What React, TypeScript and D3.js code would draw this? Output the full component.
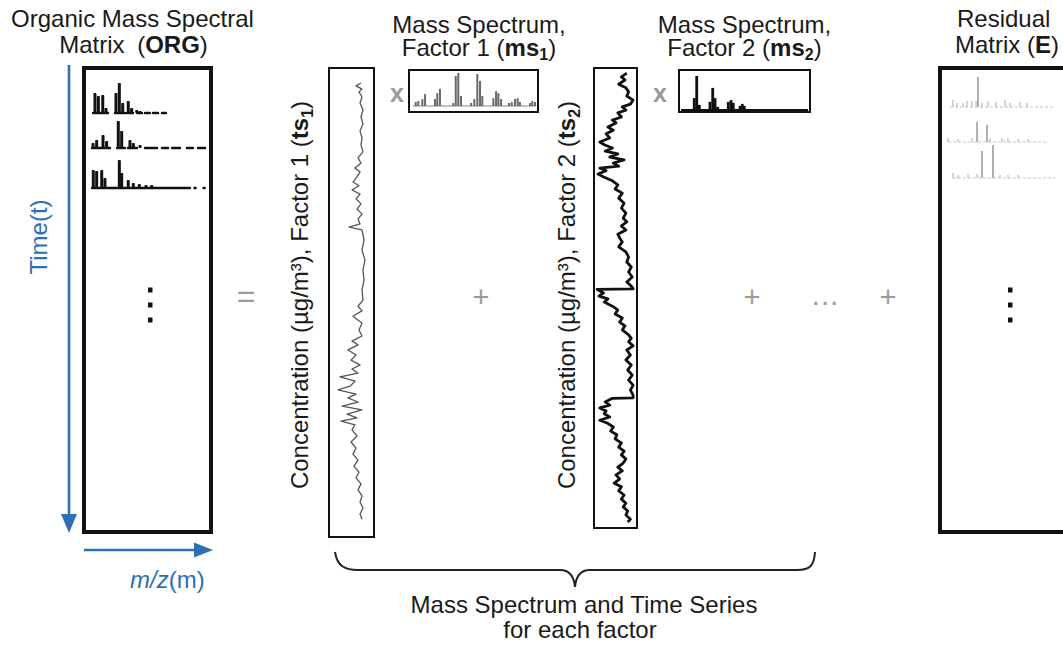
import React from 'react';
import * as d3 from 'd3';

const FONT = '"Liberation Sans", Arial, Helvetica, sans-serif';
const BLUE = '#2d70b3';
const GRAY = '#9a9a9a';

// time series, factor 1: [time (% of record), concentration µg/m3]
const ts1: [number, number][] = [
  [2.8, 0.95], [3.4, 1.47], [4.1, 0.84], [4.7, 1.16], [5.8, 0.84], [7.1, 1.05], [8.6, 0.74], [10.1, 0.95],
  [11.6, 0.74], [13.1, 1.05], [14.6, 0.84], [16.1, 0.95], [17.6, 0.74], [18.9, 1.26], [20.0, 0.95], [21.1, 1.58],
  [21.9, 1.05], [23.0, 1.37], [24.1, 1.79], [24.9, 1.16], [25.8, 1.89], [26.7, 1.05], [27.7, 1.47], [28.8, 0.95],
  [29.9, 1.37], [31.0, 0.84], [32.0, 1.26], [33.1, 1.05], [33.8, 2.21], [34.4, 0.84], [36.6, 0.63], [38.7, 0.84],
  [40.9, 0.53], [43.0, 0.74], [45.2, 0.63], [47.3, 0.84], [49.5, 0.74], [50.8, 1.26], [51.8, 0.84], [52.9, 1.79],
  [53.5, 1.47], [54.4, 0.84], [55.9, 1.16], [57.2, 0.84], [58.3, 1.89], [59.1, 1.26], [60.2, 2.32], [61.3, 1.47],
  [62.4, 2.0], [63.4, 1.05], [64.3, 1.89], [65.2, 1.26], [66.0, 3.16], [66.9, 1.58], [68.0, 2.1], [68.8, 3.37],
  [69.7, 1.47], [70.5, 2.32], [71.4, 1.26], [72.3, 2.95], [73.1, 0.84], [74.0, 2.42], [74.8, 1.37], [75.5, 3.05],
  [76.3, 1.58], [77.4, 1.89], [78.7, 1.37], [80.0, 2.0], [81.3, 1.47], [82.6, 1.79], [83.9, 1.26], [85.2, 1.68],
  [86.5, 1.16], [87.7, 1.47], [89.0, 0.95], [90.3, 1.26], [91.6, 0.84], [92.9, 1.05], [94.2, 0.74], [95.5, 1.05],
  [96.6, 0.84],
];

// time series, factor 2
const ts2: [number, number][] = [
  [0.7, 0.8], [1.5, 1.4], [2.2, 1.0], [3.1, 1.7], [3.9, 0.9], [4.8, 0.6], [5.7, 0.8], [6.6, 0.1], [7.5, 0.4],
  [8.1, 1.3], [8.8, 0.9], [9.4, 1.8], [10.3, 1.4], [11.0, 2.4], [11.6, 2.0], [12.5, 2.9], [13.2, 2.3], [14.0, 3.1],
  [14.9, 2.7], [15.8, 3.8], [16.4, 3.3], [17.1, 2.4], [17.8, 3.2], [18.4, 1.8], [19.1, 2.7], [19.7, 1.1], [20.4, 2.3],
  [21.1, 1.7], [21.5, 3.8], [22.1, 3.1], [22.8, 4.0], [23.5, 3.3], [24.3, 2.4], [25.2, 1.8], [26.1, 2.1], [27.0, 1.3],
  [28.1, 1.7], [29.2, 1.1], [30.3, 1.4], [31.4, 0.9], [32.5, 1.2], [33.3, 0.8], [34.2, 1.4], [35.1, 0.9], [36.0, 1.8],
  [36.8, 1.6], [37.7, 1.3], [38.8, 1.7], [39.9, 0.9], [41.0, 0.6], [42.1, 0.8], [43.2, 0.3], [44.3, 0.6], [45.4, 0.2],
  [46.5, 0.8], [47.4, 0.3], [48.0, 0.1], [48.1, 4.1], [48.9, 3.4], [49.6, 3.9], [50.2, 2.9], [50.9, 3.3], [51.8, 2.4],
  [52.6, 1.8], [53.5, 2.1], [54.4, 1.3], [55.3, 1.6], [56.1, 1.0], [57.0, 1.3], [57.9, 0.7], [58.8, 0.3], [59.6, 0.6],
  [60.5, 0.1], [61.4, 0.8], [62.5, 0.4], [63.6, 0.9], [64.7, 0.3], [65.8, 0.7], [66.9, 0.2], [68.0, 0.6], [69.1, 0.1],
  [70.2, 0.4], [71.3, 0.1], [71.9, 0.1], [72.0, 2.4], [72.8, 3.2], [73.5, 2.7], [74.1, 3.8], [74.8, 3.1], [75.4, 3.3],
  [76.1, 2.7], [76.8, 3.8], [77.4, 3.0], [78.3, 2.3], [79.2, 2.6], [80.0, 1.9], [80.9, 2.1], [81.8, 1.4], [82.7, 1.7],
  [83.6, 1.1], [84.4, 1.4], [85.3, 0.9], [86.2, 1.2], [87.1, 1.8], [87.9, 1.3], [88.8, 2.0], [89.7, 1.6], [90.6, 2.2],
  [91.4, 1.4], [92.3, 1.7], [93.2, 1.1], [94.1, 1.4], [95.0, 0.9], [95.8, 1.2], [96.7, 0.7], [97.6, 0.9], [98.5, 0.4],
  [99.1, 0.7],
];

// mass spectra of the two factors (m/z, relative intensity)
const ms1Mz = [15.3, 17.1, 20.0, 21.9, 28.9, 30.5, 32.4, 41.8, 43.5, 45.3, 47.2, 54.3, 56.6, 58.7, 60.6, 62.2,
  70.0, 71.9, 73.5, 75.4, 81.0, 82.9, 85.2, 87.1, 88.7, 95.8, 97.4, 99.3];
const ms1Int = [12, 15, 21, 36, 21, 39, 52, 9, 91, 100, 30, 9, 21, 97, 76, 30, 24, 45, 39, 21, 9, 12, 21, 24, 12, 9, 15, 12];
const ms2Mz = [21.8, 23.5, 25.3, 32.6, 34.5, 36.1, 37.9, 45.2, 47.1, 48.6, 53.3, 54.8, 56.2];
const ms2Int = [35, 100, 15, 24, 65, 35, 9, 24, 29, 21, 12, 18, 12];

// organic matrix, first three rows of spectra
const orgMz = [
  [14.3, 16.9, 20.3, 22.8, 30.5, 33.1, 35.7, 40.0, 42.6, 46.5, 49.0],
  [12.8, 15.6, 20.5, 23.3, 32.3, 34.9, 41.3, 43.9, 49.1],
  [13.0, 15.6, 19.5, 22.0, 33.1, 34.9, 40.0, 43.9, 48.5, 53.7, 58.1],
];
const orgInt = [
  [67, 57, 60, 17, 67, 100, 33, 40, 17, 10, 7],
  [17, 27, 43, 23, 90, 57, 27, 17, 10],
  [60, 57, 60, 33, 93, 50, 27, 17, 13, 10, 10],
];
const orgBase = [
  [[12.8, 24.4], [29.8, 37.5], [39.1, 43.7], [46.8, 50.6], [52.9, 56.7], [59.1, 63], [66, 69.1]],
  [[12, 25.9], [31.3, 37.4], [39.8, 46.7], [52.9, 62.2], [66, 70.7], [73.8, 79.9], [85.3, 89.9], [93.8, 99.3]],
  [[12, 87.6], [91.1, 92], [98.1, 99]],
];

// residual matrix rows
const resMz = [
  [17.5, 20.6, 25.4, 28.5, 32.4, 35.6, 37.1, 40.3, 45.0, 51.3, 58.4, 62.3, 70.1, 75.6],
  [13.6, 21.4, 32.4, 36.4, 44.2, 46.6, 56.0, 60.7, 68.6, 76.4],
  [17.5, 21.4, 29.3, 36.4, 40.3, 48.9, 54.4, 60.7, 68.6],
];
const resInt = [
  [21, 12, 12, 18, 18, 18, 91, 12, 18, 15, 21, 12, 15, 12],
  [12, 9, 12, 61, 52, 12, 12, 12, 9, 9],
  [15, 9, 12, 12, 82, 100, 9, 9, 9],
];
const resBase = [[15.1, 97.6], [13.6, 91], [17.5, 97.6]];

const rowBaselines = [113, 148, 188];
const resBaselines = [107, 142, 178];

const ConcLabel = ({ x, y, n }: { x: number; y: number; n: string }) => (
  <text transform={`translate(${x},${y}) rotate(-90)`} textAnchor="middle" fontSize={24} fill="#1a1a1a">
    Concentration (µg/m³), Factor {n} (<tspan fontWeight="bold">ts</tspan>
    <tspan fontWeight="bold" fontSize={16} dy={5}>{n}</tspan>
    <tspan dy={-5}>)</tspan>
  </text>
);

const MsTitle = ({ x, n }: { x: number; n: string }) => (
  <g textAnchor="middle" fontSize={24} fill="#1a1a1a">
    <text x={x} y={33}>Mass Spectrum,</text>
    <text x={x} y={56}>
      Factor {n} (<tspan fontWeight="bold">ms</tspan>
      <tspan fontWeight="bold" fontSize={16} dy={4}>{n}</tspan>
      <tspan dy={-4}>)</tspan>
    </text>
  </g>
);

export default function App() {
  // time series scales
  const t1 = d3.scaleLinear().domain([0, 100]).range([70, 535]);
  const c1 = d3.scaleLinear().domain([0, 4]).range([370, 332]);
  const t2 = d3.scaleLinear().domain([0, 100]).range([70, 526]);
  const c2 = d3.scaleLinear().domain([0, 4.2]).range([634, 596.2]);
  const line1 = d3.line<[number, number]>().x(d => c1(d[1])).y(d => t1(d[0]));
  const line2 = d3.line<[number, number]>().x(d => c2(d[1])).y(d => t2(d[0]));

  // spectra scales
  const mz1 = d3.scaleLinear().domain([12, 100]).range([411, 536]);
  const in1 = d3.scaleLinear().domain([0, 100]).range([106, 73]);
  const mz2 = d3.scaleLinear().domain([12, 100]).range([680, 808]);
  const in2 = d3.scaleLinear().domain([0, 100]).range([110, 76]);
  const mzOrg = d3.scaleLinear().domain([12, 100]).range([92, 206]);
  const hOrg = d3.scaleLinear().domain([0, 100]).range([0, 30]);
  const mzRes = d3.scaleLinear().domain([12, 100]).range([946, 1058]);
  const hRes = d3.scaleLinear().domain([0, 100]).range([0, 33]);

  const dots = [290, 305, 320];

  return (
    <svg width={1063} height={646} style={{ position: 'absolute', left: 0, top: 0, background: '#fff' }} fontFamily={FONT}>
      {/* ORG title */}
      <g textAnchor="middle" fontSize={24} fill="#1a1a1a">
        <text x={132.5} y={27}>Organic Mass Spectral</text>
        <text x={133.5} y={53}>Matrix <tspan dx={6}>(</tspan><tspan fontWeight="bold">ORG</tspan>)</text>
      </g>

      {/* axes arrows */}
      <line x1={69} y1={65} x2={69} y2={516} stroke={BLUE} strokeWidth={2.6} />
      <path d="M61,514 L77,514 L69,533 Z" fill={BLUE} />
      <line x1={84} y1={550} x2={196} y2={550} stroke={BLUE} strokeWidth={2.6} />
      <path d="M194,542.5 L194,557.5 L213,550 Z" fill={BLUE} />
      <text transform="translate(47,237) rotate(-90)" textAnchor="middle" fontSize={24} fill={BLUE}>Time(t)</text>
      <text x={130} y={588} fontSize={24} fill={BLUE}><tspan fontStyle="italic">m/z</tspan>(m)</text>

      {/* ORG matrix */}
      <rect x={84} y={68} width={127} height={464} fill="none" stroke="#111" strokeWidth={4} />
      {orgMz.map((row, r) => (
        <g key={r} fill="#111">
          {orgBase[r].map((s, i) => (
            <line key={'b' + i} x1={mzOrg(s[0])} x2={mzOrg(s[1])} y1={rowBaselines[r]} y2={rowBaselines[r]} stroke="#111" strokeWidth={2.4} strokeLinecap="round" />
          ))}
          {row.map((m, i) => (
            <rect key={i} x={mzOrg(m) - 1.5} width={3} y={rowBaselines[r] - hOrg(orgInt[r][i])} height={hOrg(orgInt[r][i])} rx={0.8} />
          ))}
        </g>
      ))}
      {dots.map(y => <rect key={y} x={148} y={y - 2.5} width={4.5} height={5} fill="#111" />)}

      <text x={246} y={307} textAnchor="middle" fontSize={32} fill={GRAY}>=</text>

      {/* factor 1 */}
      <ConcLabel x={308} y={295} n="1" />
      <rect x={329} y={68} width={45} height={469} fill="none" stroke="#111" strokeWidth={2} />
      <path d={line1(ts1) || ''} fill="none" stroke="#555" strokeWidth={1.3} strokeLinejoin="round" />
      <text x={397} y={102} textAnchor="middle" fontSize={25} fontWeight="bold" fill={GRAY}>x</text>
      <MsTitle x={479} n="1" />
      <rect x={409} y={70} width={129} height={42} fill="none" stroke="#111" strokeWidth={2} />
      <line x1={413} x2={536} y1={106} y2={106} stroke="#888" strokeWidth={1.2} />
      {ms1Mz.map((m, i) => (
        <rect key={i} x={mz1(m) - 1} width={2} y={in1(ms1Int[i])} height={in1(0) - in1(ms1Int[i])} fill="#6a6a6a" />
      ))}

      <text x={481} y={307} textAnchor="middle" fontSize={29} fill={GRAY}>+</text>

      {/* factor 2 */}
      <ConcLabel x={575} y={295} n="2" />
      <rect x={594} y={68} width={43} height={460} fill="none" stroke="#111" strokeWidth={2} />
      <path d={line2(ts2) || ''} fill="none" stroke="#111" strokeWidth={2.8} strokeLinejoin="round" />
      <text x={660} y={102} textAnchor="middle" fontSize={25} fontWeight="bold" fill={GRAY}>x</text>
      <MsTitle x={744.5} n="2" />
      <rect x={679} y={70} width={131} height={42} fill="none" stroke="#111" strokeWidth={2} />
      <line x1={681} x2={808} y1={110} y2={110} stroke="#111" strokeWidth={2} />
      {ms2Mz.map((m, i) => (
        <rect key={i} x={mz2(m) - 1.4} width={2.8} y={in2(ms2Int[i])} height={in2(0) - in2(ms2Int[i])} fill="#111" />
      ))}

      <text x={752} y={307} textAnchor="middle" fontSize={29} fill={GRAY}>+</text>
      <text x={825} y={305} textAnchor="middle" fontSize={29} fill={GRAY}>…</text>
      <text x={888} y={307} textAnchor="middle" fontSize={29} fill={GRAY}>+</text>

      {/* residual */}
      <g fontSize={24} fill="#1a1a1a">
        <text x={957} y={27}>Residual</text>
        <text x={955} y={53}>Matrix (<tspan fontWeight="bold">E</tspan>)</text>
      </g>
      <rect x={940} y={68} width={200} height={464} fill="none" stroke="#111" strokeWidth={4} />
      {resMz.map((row, r) => (
        <g key={r}>
          <line x1={mzRes(resBase[r][0])} x2={mzRes(resBase[r][1])} y1={resBaselines[r]} y2={resBaselines[r]} stroke="#c4c4c4" strokeWidth={1} strokeDasharray="3,2" />
          {row.map((m, i) => (
            <line key={i} x1={mzRes(m)} x2={mzRes(m)} y1={resBaselines[r]} y2={resBaselines[r] - hRes(resInt[r][i])}
              stroke={resInt[r][i] > 50 ? '#7a7a7a' : '#b8b8b8'} strokeWidth={1.2} />
          ))}
        </g>
      ))}
      {dots.map(y => <rect key={y} x={1008} y={y - 2.5} width={4.5} height={5} fill="#111" />)}

      {/* brace */}
      <path d="M335,552 C337,566 345,570 358,570 L560,570 C569,570 574,576 575,587 C576,576 581,570 590,570 L797,570 C810,570 814,566 815,552"
        fill="none" stroke="#222" strokeWidth={2} />
      <g textAnchor="middle" fontSize={24} fill="#1a1a1a">
        <text x={584} y={613}>Mass Spectrum and Time Series</text>
        <text x={580} y={638}>for each factor</text>
      </g>
    </svg>
  );
}
